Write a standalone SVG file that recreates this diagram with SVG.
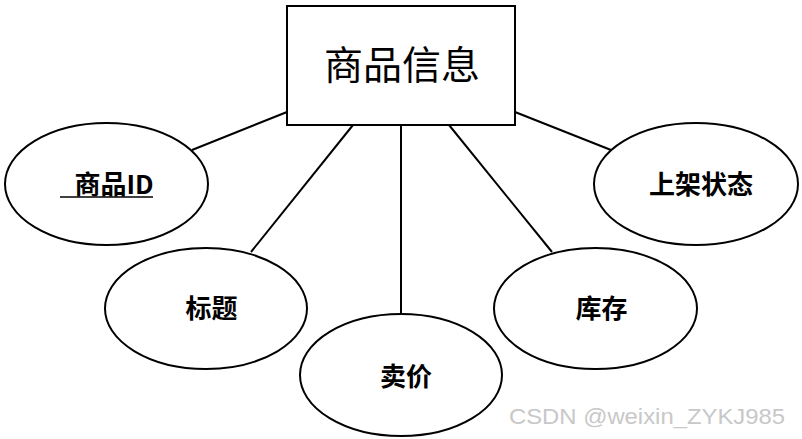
<svg xmlns="http://www.w3.org/2000/svg" width="802" height="439" viewBox="0 0 802 439">
<style>
.shape{fill:#fff;stroke:#000;stroke-width:2}
.conn{stroke:#000;stroke-width:2;fill:none}
.lbl{font-family:"Noto Sans CJK SC","Liberation Sans",sans-serif;font-weight:bold;font-size:26px;fill:#000;text-anchor:middle}
.title{font-family:"Noto Sans CJK SC","Liberation Sans",sans-serif;font-size:39px;fill:#000;text-anchor:middle}
.wm{font-family:"Liberation Sans","Noto Sans",sans-serif;font-size:22px;fill:#c8c8c8}
</style>
<rect width="802" height="439" fill="#fff"/>
<g id="connectors">
<line class="conn" x1="287" y1="112" x2="192" y2="150"/>
<line class="conn" x1="353" y1="125" x2="251" y2="252"/>
<line class="conn" x1="401" y1="125" x2="401" y2="314"/>
<line class="conn" x1="449" y1="125" x2="552" y2="252"/>
<line class="conn" x1="515" y1="112" x2="611" y2="150"/>
</g>
<g id="entity">
<rect class="shape" x="287" y="6" width="228" height="119"/>
<text class="title" x="402" y="79">商品信息</text>
</g>
<g id="attr-id">
<ellipse class="shape" cx="106.5" cy="184" rx="101.5" ry="61"/>
<text class="lbl" x="114" y="194">商品ID</text>
<line x1="60" y1="197" x2="153" y2="197" stroke="#000" stroke-width="1.5"/>
</g>
<g id="attr-title">
<ellipse class="shape" cx="206" cy="308.5" rx="101" ry="60.5"/>
<text class="lbl" x="211.5" y="318">标题</text>
</g>
<g id="attr-price">
<ellipse class="shape" cx="401" cy="375" rx="101" ry="61"/>
<text class="lbl" x="406" y="386">卖价</text>
</g>
<g id="attr-stock">
<ellipse class="shape" cx="595.5" cy="308.5" rx="101.5" ry="60.5"/>
<text class="lbl" x="601.5" y="318">库存</text>
</g>
<g id="attr-status">
<ellipse class="shape" cx="696" cy="184" rx="102" ry="61"/>
<text class="lbl" x="701" y="194">上架状态</text>
</g>
<text class="wm" x="509" y="424" textLength="276" lengthAdjust="spacingAndGlyphs">CSDN @weixin_ZYKJ985</text>
</svg>
